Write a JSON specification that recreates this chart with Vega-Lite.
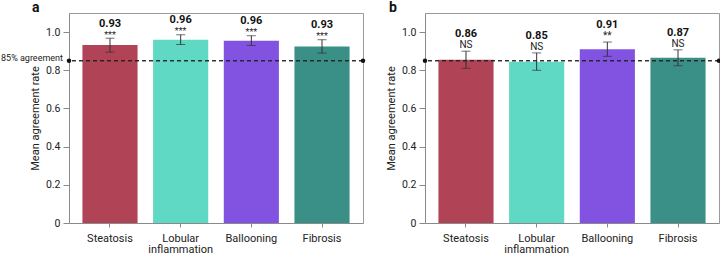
{
  "$schema": "https://vega.github.io/schema/vega-lite/v6.json",
  "padding": {"left": 0, "top": 0, "right": 0, "bottom": 0},
  "spacing": 18,
  "config": {
    "font": "Roboto",
    "view": {"stroke": "#9a9a9a", "strokeWidth": 1},
    "axis": {"domainColor": "#8a8a8a", "tickColor": "#8a8a8a", "labelColor": "#222", "titleColor": "#222", "grid": false}
  },
  "datasets": {
    "bars": [
      {"panel": "a", "feature": "Steatosis", "mean": 0.932, "lo": 0.895, "hi": 0.968, "label": "0.93", "sig": "***"},
      {"panel": "a", "feature": "Lobular inflammation", "mean": 0.960, "lo": 0.935, "hi": 0.986, "label": "0.96", "sig": "***"},
      {"panel": "a", "feature": "Ballooning", "mean": 0.955, "lo": 0.930, "hi": 0.981, "label": "0.96", "sig": "***"},
      {"panel": "a", "feature": "Fibrosis", "mean": 0.925, "lo": 0.890, "hi": 0.960, "label": "0.93", "sig": "***"},
      {"panel": "b", "feature": "Steatosis", "mean": 0.855, "lo": 0.810, "hi": 0.900, "label": "0.86", "sig": "NS"},
      {"panel": "b", "feature": "Lobular inflammation", "mean": 0.845, "lo": 0.800, "hi": 0.891, "label": "0.85", "sig": "NS"},
      {"panel": "b", "feature": "Ballooning", "mean": 0.910, "lo": 0.873, "hi": 0.948, "label": "0.91", "sig": "**"},
      {"panel": "b", "feature": "Fibrosis", "mean": 0.865, "lo": 0.824, "hi": 0.907, "label": "0.87", "sig": "NS"}
    ]
  },
  "hconcat": [
    {
      "width": 294,
      "height": 210,
      "title": {"text": "a", "anchor": "start", "frame": "group", "dx": -37, "fontSize": 14, "fontWeight": "bold", "baseline": "alphabetic", "offset": -13, "color": "#111"},
      "resolve": {"scale": {"x": "independent"}},
      "layer": [
        {
          "data": {"name": "bars"},
          "transform": [{"filter": "datum.panel == 'a'"}],
          "encoding": {
            "x": {"field": "feature", "type": "nominal", "sort": ["Steatosis", "Lobular inflammation", "Ballooning", "Fibrosis"],
              "scale": {"paddingInner": 0.22, "paddingOuter": 0.19},
              "axis": {"title": null, "labelAngle": 0, "tickSize": 4, "labelPadding": 5, "labelFontSize": 11, "labelLineHeight": 11.5,
                "labelExpr": "datum.value == 'Lobular inflammation' ? ['Lobular', 'inflammation'] : datum.value"}}
          },
          "layer": [
            {
              "mark": {"type": "bar"},
              "encoding": {
                "y": {"field": "mean", "type": "quantitative", "scale": {"domain": [0, 1.1], "nice": false, "zero": true},
                  "axis": {"title": "Mean agreement rate", "values": [0, 0.2, 0.4, 0.6, 0.8, 1], "labelExpr": "datum.value == 0 ? '0' : format(datum.value, '.1f')",
                    "tickSize": 6, "labelPadding": 3, "labelFontSize": 10.5, "titleFontSize": 11, "titleFontWeight": "normal", "titlePadding": 5}},
                "color": {"field": "feature", "type": "nominal", "legend": null,
                  "scale": {"domain": ["Steatosis", "Lobular inflammation", "Ballooning", "Fibrosis"], "range": ["#B04356", "#5FD8C4", "#8153E0", "#3A9087"]}}
              }
            },
            {"mark": {"type": "rule", "color": "#333", "strokeWidth": 1}, "encoding": {"y": {"field": "lo", "type": "quantitative"}, "y2": {"field": "hi"}}},
            {"mark": {"type": "tick", "color": "#333", "size": 9, "thickness": 1, "orient": "horizontal"}, "encoding": {"y": {"field": "lo", "type": "quantitative"}}},
            {"mark": {"type": "tick", "color": "#333", "size": 9, "thickness": 1, "orient": "horizontal"}, "encoding": {"y": {"field": "hi", "type": "quantitative"}}},
            {"mark": {"type": "text", "baseline": "alphabetic", "dy": -0.5, "fontSize": 9, "color": "#222"}, "encoding": {"y": {"field": "hi", "type": "quantitative"}, "text": {"field": "sig"}}},
            {"mark": {"type": "text", "baseline": "alphabetic", "dy": -11.5, "fontSize": 11, "fontWeight": "bold", "color": "#111"}, "encoding": {"y": {"field": "hi", "type": "quantitative"}, "text": {"field": "label"}}}
          ]
        },
        {
          "data": {"values": [{"end": 0, "txt": "85% agreement"}, {"end": 1, "txt": ""}]},
          "layer": [
            {"mark": {"type": "rule", "color": "#222", "strokeDash": [4, 3], "strokeWidth": 1.1}, "encoding": {"y": {"datum": 0.85, "type": "quantitative"}}},
            {"mark": {"type": "point", "filled": true, "color": "#111", "size": 20, "opacity": 1},
              "encoding": {
                "x": {"field": "end", "type": "quantitative", "scale": {"domain": [0, 1], "nice": false, "zero": false}, "axis": null},
                "y": {"datum": 0.85, "type": "quantitative"}}},
            {"mark": {"type": "text", "align": "right", "baseline": "alphabetic", "dx": -6, "fontSize": 9, "color": "#222"},
              "encoding": {
                "x": {"field": "end", "type": "quantitative", "scale": {"domain": [0, 1], "nice": false, "zero": false}, "axis": null},
                "y": {"datum": 0.85, "type": "quantitative"},
                "text": {"field": "txt"}}}
          ]
        }
      ]
    },
    {
      "width": 294,
      "height": 210,
      "title": {"text": "b", "anchor": "start", "frame": "group", "dx": -36, "fontSize": 14, "fontWeight": "bold", "baseline": "alphabetic", "offset": -13, "color": "#111"},
      "resolve": {"scale": {"x": "independent"}},
      "layer": [
        {
          "data": {"name": "bars"},
          "transform": [{"filter": "datum.panel == 'b'"}],
          "encoding": {
            "x": {"field": "feature", "type": "nominal", "sort": ["Steatosis", "Lobular inflammation", "Ballooning", "Fibrosis"],
              "scale": {"paddingInner": 0.22, "paddingOuter": 0.19},
              "axis": {"title": null, "labelAngle": 0, "tickSize": 4, "labelPadding": 5, "labelFontSize": 11, "labelLineHeight": 11.5,
                "labelExpr": "datum.value == 'Lobular inflammation' ? ['Lobular', 'inflammation'] : datum.value"}}
          },
          "layer": [
            {
              "mark": {"type": "bar"},
              "encoding": {
                "y": {"field": "mean", "type": "quantitative", "scale": {"domain": [0, 1.1], "nice": false, "zero": true},
                  "axis": {"title": "Mean agreement rate", "values": [0, 0.2, 0.4, 0.6, 0.8, 1], "labelExpr": "datum.value == 0 ? '0' : format(datum.value, '.1f')",
                    "tickSize": 6, "labelPadding": 3, "labelFontSize": 10.5, "titleFontSize": 11, "titleFontWeight": "normal", "titlePadding": 5}},
                "color": {"field": "feature", "type": "nominal", "legend": null,
                  "scale": {"domain": ["Steatosis", "Lobular inflammation", "Ballooning", "Fibrosis"], "range": ["#B04356", "#5FD8C4", "#8153E0", "#3A9087"]}}
              }
            },
            {"mark": {"type": "rule", "color": "#333", "strokeWidth": 1}, "encoding": {"y": {"field": "lo", "type": "quantitative"}, "y2": {"field": "hi"}}},
            {"mark": {"type": "tick", "color": "#333", "size": 9, "thickness": 1, "orient": "horizontal"}, "encoding": {"y": {"field": "lo", "type": "quantitative"}}},
            {"mark": {"type": "tick", "color": "#333", "size": 9, "thickness": 1, "orient": "horizontal"}, "encoding": {"y": {"field": "hi", "type": "quantitative"}}},
            {"mark": {"type": "text", "baseline": "alphabetic", "dy": -3, "fontSize": 10, "color": "#222"}, "encoding": {"y": {"field": "hi", "type": "quantitative"}, "text": {"field": "sig"}}},
            {"mark": {"type": "text", "baseline": "alphabetic", "dy": -14, "fontSize": 11, "fontWeight": "bold", "color": "#111"}, "encoding": {"y": {"field": "hi", "type": "quantitative"}, "text": {"field": "label"}}}
          ]
        },
        {
          "data": {"values": [{"end": 0}, {"end": 1}]},
          "layer": [
            {"mark": {"type": "rule", "color": "#222", "strokeDash": [4, 3], "strokeWidth": 1.1}, "encoding": {"y": {"datum": 0.85, "type": "quantitative"}}},
            {"mark": {"type": "point", "filled": true, "color": "#111", "size": 20, "opacity": 1},
              "encoding": {
                "x": {"field": "end", "type": "quantitative", "scale": {"domain": [0, 1], "nice": false, "zero": false}, "axis": null},
                "y": {"datum": 0.85, "type": "quantitative"}}}
          ]
        }
      ]
    }
  ]
}
